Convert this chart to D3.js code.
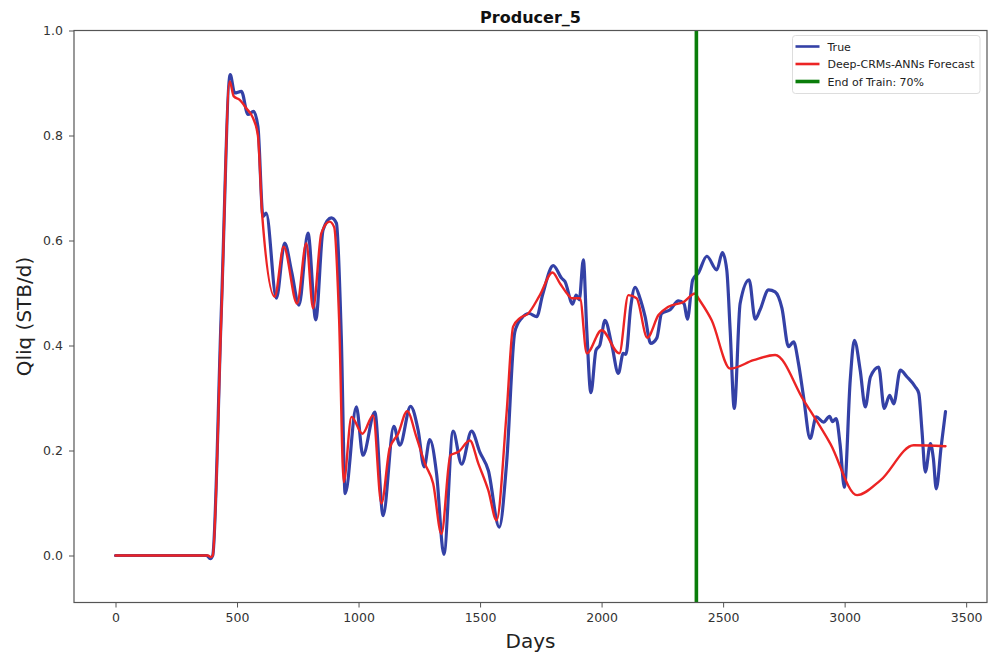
<!DOCTYPE html>
<html>
<head>
<meta charset="utf-8">
<script src="https://cdn.jsdelivr.net/npm/d3@7"></script>
<style>
  html, body { margin: 0; padding: 0; background: #fff; }
  svg { display: block; font-family: "DejaVu Sans", sans-serif; }
</style>
</head>
<body>
<svg id="chart" width="998" height="659"></svg>
<script>
// Producer_5 liquid rate: observed vs. Deep-CRMs-ANNs forecast
const chartTitle = "Producer_5";
const xTicks = [0, 500, 1000, 1500, 2000, 2500, 3000, 3500];
const yTicks = [0.0, 0.2, 0.4, 0.6, 0.8, 1.0];
const trainEndDay = 2390;

const trueDays = [0, 200, 375, 390, 400, 435, 472, 490, 518, 545, 568, 586, 607, 620, 662, 696, 725, 755, 792, 824, 854, 888, 909, 929, 945,
  991, 1018, 1067, 1101, 1145, 1170, 1214, 1245, 1270, 1293, 1321, 1351, 1389, 1424, 1465, 1499, 1534, 1579, 1609, 1643, 1671, 1702, 1733,
  1757, 1801, 1836, 1849, 1881, 1895, 1908, 1925, 1939, 1956, 1977, 1993, 2014, 2042, 2069, 2089, 2100, 2120, 2138, 2158, 2179, 2202,
  2227, 2247, 2282, 2316, 2339, 2353, 2375, 2398, 2433, 2474, 2497, 2515, 2529, 2546, 2570, 2607, 2632, 2652, 2687, 2714, 2742, 2769,
  2790, 2810, 2831, 2858, 2883, 2913, 2938, 2950, 2965, 2981, 2999, 3023, 3040, 3064, 3085, 3106, 3140, 3163, 3185, 3202, 3229, 3257,
  3291, 3305, 3318, 3332, 3353, 3365, 3377, 3397, 3415];
const trueValues = [0, 0, 0, -0.006, 0.0, 0.46, 0.916, 0.881, 0.884, 0.840, 0.846, 0.817, 0.646, 0.652, 0.490, 0.595, 0.540, 0.477, 0.614, 0.449, 0.620, 0.643, 0.633, 0.417, 0.118,
  0.283, 0.191, 0.273, 0.076, 0.246, 0.210, 0.284, 0.239, 0.169, 0.221, 0.156, 0.002, 0.237, 0.174, 0.237, 0.197, 0.162, 0.054, 0.175, 0.426, 0.452, 0.461, 0.455,
  0.496, 0.552, 0.528, 0.522, 0.479, 0.496, 0.487, 0.563, 0.429, 0.310, 0.391, 0.401, 0.448, 0.401, 0.347, 0.385, 0.383, 0.474, 0.511, 0.490, 0.455, 0.404,
  0.414, 0.461, 0.468, 0.485, 0.480, 0.450, 0.525, 0.538, 0.570, 0.544, 0.577, 0.544, 0.429, 0.280, 0.480, 0.525, 0.450, 0.468, 0.506, 0.502, 0.471, 0.398,
  0.407, 0.366, 0.302, 0.223, 0.264, 0.254, 0.265, 0.255, 0.261, 0.213, 0.130, 0.334, 0.410, 0.353, 0.283, 0.340, 0.359, 0.280, 0.305, 0.289, 0.353, 0.340,
  0.321, 0.309, 0.239, 0.159, 0.213, 0.185, 0.127, 0.207, 0.274];

const forecastDays = [0, 200, 380, 392, 400, 435, 470, 486, 511, 538, 566, 586, 604, 655, 692, 747, 785, 813, 847, 881, 900, 920, 939,
  971, 1016, 1060, 1094, 1128, 1163, 1200, 1238, 1273, 1307, 1341, 1378, 1410, 1458, 1493, 1534, 1568, 1609, 1636, 1664, 1698, 1746,
  1798, 1829, 1863, 1877, 1911, 1939, 2000, 2073, 2110, 2144, 2188, 2234, 2275, 2337, 2385, 2398, 2453, 2529, 2625, 2714, 2831, 2941,
  3051, 3147, 3284, 3415];
const forecastValues = [0, 0, 0, -0.003, 0, 0.45, 0.903, 0.875, 0.868, 0.852, 0.833, 0.800, 0.646, 0.493, 0.588, 0.480, 0.595, 0.471, 0.614, 0.636, 0.625, 0.450, 0.140,
  0.264, 0.232, 0.267, 0.099, 0.204, 0.232, 0.275, 0.226, 0.175, 0.137, 0.041, 0.191, 0.197, 0.219, 0.175, 0.124, 0.067, 0.271, 0.436, 0.452, 0.461, 0.496,
  0.539, 0.518, 0.496, 0.490, 0.490, 0.385, 0.429, 0.385, 0.496, 0.490, 0.415, 0.458, 0.474, 0.483, 0.499, 0.490, 0.448, 0.356, 0.372, 0.382, 0.296, 0.213,
  0.115, 0.143, 0.210, 0.208];

const seriesNames = ["True", "Deep-CRMs-ANNs Forecast", "End of Train: 70%"];
const seriesColors = ["#3441a6", "#ec2424", "#0a7d0a"];

const svg = d3.select("#chart");
const plot = { left: 74, top: 30.5, right: 987, bottom: 602.5 };

const x = d3.scaleLinear().domain([-170.75, 3585.75]).range([plot.left, plot.right]);
const y = d3.scaleLinear().domain([-0.0895, 1.0]).range([plot.bottom, plot.top]);

const axisColor = "#555";
const tickTextColor = "#333";

// data lines
const trueData = trueDays.map((d, i) => [d, trueValues[i]]);
const forecastData = forecastDays.map((d, i) => [d, forecastValues[i]]);
const line = d3.line().x(d => x(d[0])).y(d => y(d[1])).curve(d3.curveMonotoneX);

svg.append("path").datum(trueData)
  .attr("d", line).attr("fill", "none")
  .attr("stroke", seriesColors[0]).attr("stroke-width", 3.2)
  .attr("stroke-linejoin", "round").attr("stroke-linecap", "round");

svg.append("path").datum(forecastData)
  .attr("d", line).attr("fill", "none")
  .attr("stroke", seriesColors[1]).attr("stroke-width", 2.4)
  .attr("stroke-linejoin", "round").attr("stroke-linecap", "round");

// end of training marker
svg.append("line")
  .attr("x1", x(trainEndDay)).attr("x2", x(trainEndDay))
  .attr("y1", plot.top).attr("y2", plot.bottom)
  .attr("stroke", seriesColors[2]).attr("stroke-width", 3.6);

// axes
const xAxis = d3.axisBottom(x).tickValues(xTicks).tickFormat(d3.format("d")).tickSize(5).tickPadding(6);
const yAxis = d3.axisLeft(y).tickValues(yTicks).tickFormat(d3.format(".1f")).tickSize(5).tickPadding(6);

const gx = svg.append("g").attr("transform", `translate(0,${plot.bottom})`).call(xAxis);
const gy = svg.append("g").attr("transform", `translate(${plot.left},0)`).call(yAxis);
[gx, gy].forEach(g => {
  g.select(".domain").remove();
  g.selectAll(".tick line").attr("stroke", axisColor).attr("stroke-width", 1);
  g.selectAll(".tick text").attr("fill", tickTextColor)
    .style("font-family", "'DejaVu Sans', sans-serif").style("font-size", "12.5px");
});

// frame
svg.append("rect")
  .attr("x", plot.left).attr("y", plot.top)
  .attr("width", plot.right - plot.left).attr("height", plot.bottom - plot.top)
  .attr("fill", "none").attr("stroke", axisColor).attr("stroke-width", 1.2);

// labels
svg.append("text").attr("x", (plot.left + plot.right) / 2).attr("y", 23)
  .attr("text-anchor", "middle").attr("font-weight", "bold").attr("font-size", 16)
  .attr("fill", "#111").text(chartTitle);

svg.append("text").attr("x", (plot.left + plot.right) / 2).attr("y", 648)
  .attr("text-anchor", "middle").attr("font-size", 20).attr("fill", "#222").text("Days");

svg.append("text")
  .attr("transform", `translate(31,${(plot.top + plot.bottom) / 2}) rotate(-90)`)
  .attr("text-anchor", "middle").attr("font-size", 20).attr("fill", "#222").text("Qliq (STB/d)");

// legend
const legend = svg.append("g").attr("transform", "translate(792.5,35.5)");
legend.append("rect").attr("width", 187.5).attr("height", 58).attr("rx", 3)
  .attr("fill", "#fff").attr("stroke", "#ddd").attr("stroke-width", 1);
seriesNames.forEach((name, i) => {
  const yy = 11 + i * 17.5;
  legend.append("line").attr("x1", 3).attr("x2", 27).attr("y1", yy).attr("y2", yy)
    .attr("stroke", seriesColors[i]).attr("stroke-width", i === 2 ? 3.6 : 2.6);
  legend.append("text").attr("x", 35).attr("y", yy + 4)
    .attr("font-size", 11).attr("fill", "#222").text(name);
});
</script>
</body>
</html>
